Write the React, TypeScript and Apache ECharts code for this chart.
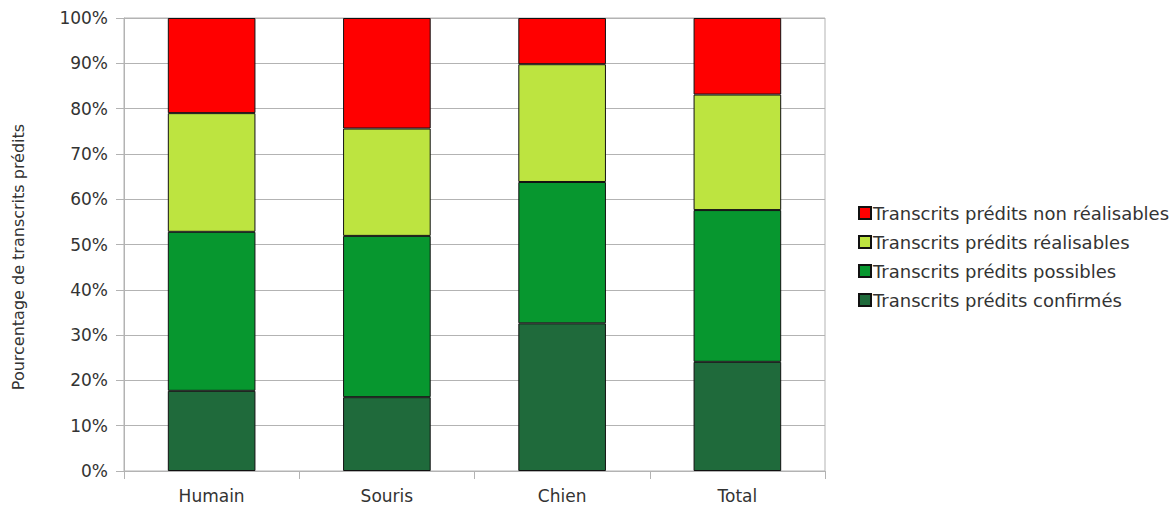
import React, { useEffect, useRef } from "react";
import * as echarts from "echarts";

const categories = ["Humain", "Souris", "Chien", "Total"];
const confirmes = [17.7, 16.3, 32.6, 24.1];
const possibles = [35.1, 35.6, 31.2, 33.5];
const realisables = [26.2, 23.7, 26.0, 25.5];
const nonRealisables = [21.0, 24.4, 10.2, 16.9];
const yTicks = [0, 10, 20, 30, 40, 50, 60, 70, 80, 90, 100];
const yAxisTitle = "Pourcentage de transcrits prédits";

const names = [
  "Transcrits prédits confirmés",
  "Transcrits prédits possibles",
  "Transcrits prédits réalisables",
  "Transcrits prédits non réalisables",
];
const colors = ["#1f6a3b", "#07972f", "#bde440", "#ff0000"];
const values = [confirmes, possibles, realisables, nonRealisables];

const FONT = "DejaVu Sans";

export default function App() {
  const ref = useRef<HTMLDivElement>(null);
  useEffect(() => {
    if (!ref.current) return;
    const chart = echarts.init(ref.current, null, { renderer: "svg" });
    chart.setOption({
      animation: false,
      grid: {
        left: 124,
        right: 351,
        top: 18,
        bottom: 36,
        show: true,
        borderColor: "#b3b3b3",
        borderWidth: 1,
      },
      graphic: [
        {
          type: "text",
          x: 18,
          y: 257,
          rotation: Math.PI / 2,
          style: {
            text: yAxisTitle,
            fontFamily: FONT,
            fontSize: 16,
            fill: "#333",
            align: "center",
            verticalAlign: "middle",
          },
        },
      ],
      legend: {
        orient: "vertical",
        left: 853,
        top: 199,
        itemWidth: 12,
        itemHeight: 12,
        itemGap: 11,
        icon: "rect",
        data: [names[3], names[2], names[1], names[0]],
        textStyle: { fontFamily: FONT, fontSize: 18, lineHeight: 18, color: "#333", padding: [0, 0, 0, -3] },
      },
      xAxis: {
        type: "category",
        data: categories,
        axisLine: { lineStyle: { color: "#b3b3b3" } },
        axisTick: { show: true, length: 8, lineStyle: { color: "#b3b3b3" } },
        axisLabel: { fontFamily: FONT, fontSize: 17, color: "#333", margin: 16 },
      },
      yAxis: {
        type: "value",
        min: yTicks[0],
        max: yTicks[yTicks.length - 1],
        interval: 10,
        axisLine: { show: true, lineStyle: { color: "#b3b3b3" } },
        axisTick: { show: true, length: 8, lineStyle: { color: "#b3b3b3" } },
        splitLine: { lineStyle: { color: "#b3b3b3" } },
        axisLabel: {
          formatter: "{value}%",
          fontFamily: FONT,
          fontSize: 17,
          color: "#333",
          margin: 16,
        },
      },
      series: values.map((v, i) => ({
        name: names[i],
        type: "bar",
        stack: "total",
        data: v,
        barWidth: "50%",
        itemStyle: { color: colors[i], borderColor: "#111", borderWidth: 1 },
      })),
    });
    return () => chart.dispose();
  }, []);
  return (
    <div
      ref={ref}
      style={{ position: "absolute", left: 0, top: 0, width: 1176, height: 507 }}
    />
  );
}
